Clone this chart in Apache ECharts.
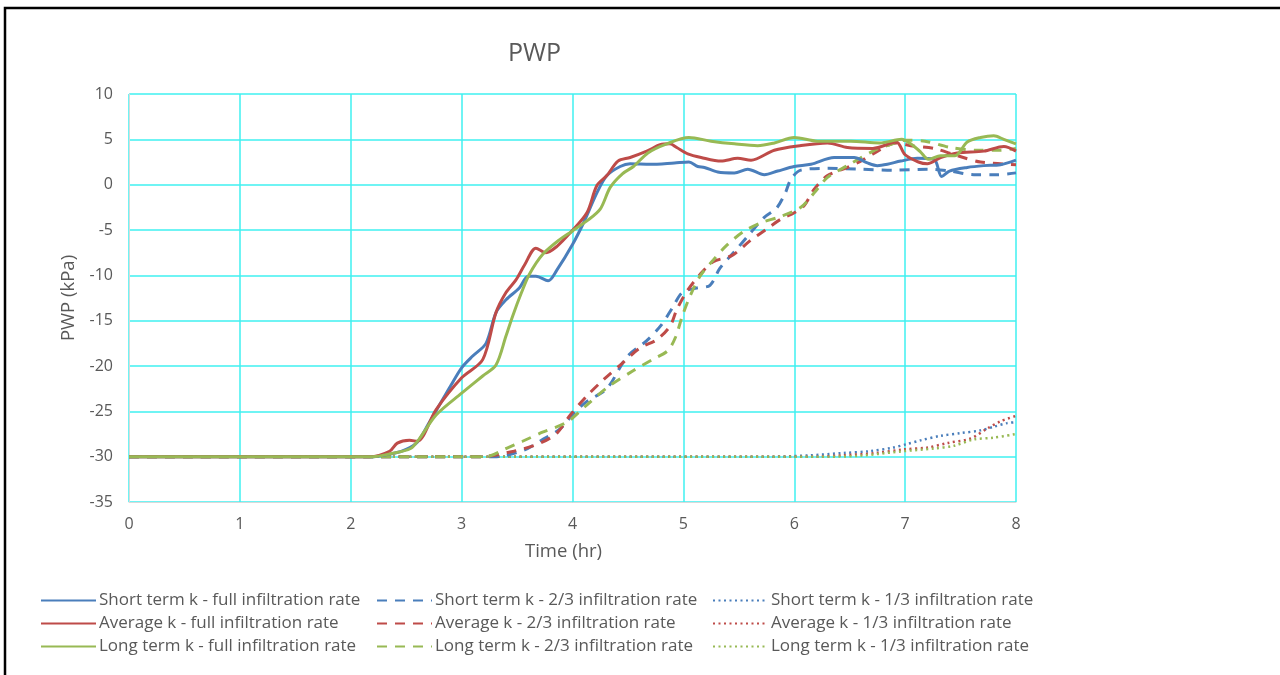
<!DOCTYPE html>
<html>
<head>
<meta charset="utf-8">
<title>PWP</title>
<script src="https://cdn.jsdelivr.net/npm/echarts@6/dist/echarts.min.js"></script>
<style>
  html, body { margin: 0; padding: 0; background: #ffffff; }
  #chart { width: 1280px; height: 675px; }
</style>
</head>
<body>
<div id="chart"></div>
<script>
// Pore water pressure (kPa) against time (hr), pairs of [time, pwp]
const shortFull = [[0,-30],[2.2,-30],[2.4,-29.6],[2.5,-29.2],[2.6,-28.4],[2.7,-26.4],[2.8,-24.3],[2.9,-22.2],[3.0,-20.2],[3.1,-18.9],[3.22,-17.5],[3.31,-14.1],[3.4,-12.7],[3.52,-11.4],[3.6,-10.1],[3.67,-10.1],[3.78,-10.6],[3.86,-9.4],[4.0,-6.6],[4.1,-4.2],[4.22,-0.9],[4.31,1.0],[4.43,2.0],[4.52,2.3],[4.7,2.25],[4.92,2.4],[5.05,2.5],[5.13,2.0],[5.19,1.9],[5.31,1.4],[5.46,1.3],[5.58,1.7],[5.73,1.1],[5.85,1.5],[6.0,2.0],[6.15,2.25],[6.36,3.0],[6.54,3.0],[6.66,2.4],[6.75,2.1],[6.84,2.25],[6.96,2.6],[7.11,2.9],[7.26,2.8],[7.33,0.9],[7.4,1.5],[7.56,1.9],[7.71,2.1],[7.86,2.2],[8.0,2.7]];
const averageFull = [[0,-30],[2.17,-30],[2.35,-29.4],[2.42,-28.5],[2.53,-28.2],[2.6,-28.3],[2.77,-24.8],[3.0,-21.3],[3.19,-19.3],[3.31,-14.1],[3.4,-11.9],[3.49,-10.5],[3.57,-8.8],[3.67,-7.0],[3.76,-7.5],[3.86,-6.8],[3.98,-5.3],[4.13,-3.1],[4.22,-0.1],[4.31,1.0],[4.41,2.6],[4.52,3.0],[4.67,3.7],[4.79,4.4],[4.88,4.5],[4.94,4.1],[5.04,3.4],[5.16,3.0],[5.34,2.6],[5.49,2.9],[5.61,2.7],[5.82,3.8],[6.05,4.3],[6.3,4.6],[6.48,4.1],[6.71,4.0],[6.92,4.7],[7.0,3.3],[7.12,2.5],[7.2,2.3],[7.32,3.0],[7.47,3.5],[7.71,3.7],[7.89,4.2],[8.0,3.7]];
const longFull = [[0,-30],[2.2,-30],[2.35,-29.7],[2.54,-29.1],[2.62,-28.0],[2.77,-25.4],[3.0,-23.0],[3.19,-21.1],[3.31,-19.9],[3.4,-16.7],[3.46,-14.5],[3.54,-11.9],[3.61,-9.9],[3.73,-7.7],[3.89,-6.0],[4.0,-5.1],[4.13,-4.0],[4.25,-2.7],[4.34,-0.3],[4.45,1.2],[4.55,2.0],[4.68,3.5],[4.85,4.5],[5.05,5.2],[5.25,4.8],[5.46,4.5],[5.67,4.3],[5.82,4.6],[6.0,5.2],[6.21,4.8],[6.51,4.8],[6.77,4.6],[6.97,5.0],[7.05,4.5],[7.14,3.6],[7.21,2.8],[7.32,3.2],[7.45,3.2],[7.56,4.7],[7.68,5.2],[7.8,5.4],[7.89,5.0],[8.0,4.5]];

const short23 = [[0,-30],[3.3,-30],[3.56,-29.3],[3.72,-28.2],[3.89,-26.9],[4.02,-25.1],[4.13,-23.9],[4.31,-22.5],[4.49,-19.0],[4.67,-17.2],[4.8,-15.5],[4.9,-13.6],[4.99,-11.9],[5.12,-11.4],[5.24,-11.1],[5.33,-9.2],[5.46,-7.4],[5.6,-5.4],[5.73,-3.6],[5.84,-2.6],[5.92,-0.9],[5.97,0.6],[6.06,1.6],[6.3,1.8],[6.6,1.7],[6.9,1.6],[7.2,1.7],[7.41,1.5],[7.62,1.1],[7.83,1.1],[8.0,1.3]];
const average23 = [[0,-30],[3.17,-30],[3.47,-29.4],[3.71,-28.5],[3.86,-27.4],[3.98,-25.4],[4.13,-23.3],[4.28,-21.5],[4.43,-19.9],[4.61,-18.0],[4.76,-17.1],[4.88,-15.6],[4.94,-13.8],[5.03,-11.8],[5.15,-9.9],[5.27,-8.5],[5.44,-7.8],[5.6,-6.2],[5.75,-4.9],[5.88,-3.8],[6.0,-3.1],[6.09,-2.3],[6.18,-0.5],[6.3,1.0],[6.48,1.9],[6.6,2.6],[6.71,3.4],[6.92,4.6],[7.05,4.3],[7.26,4.0],[7.47,3.2],[7.68,2.5],[8.0,2.2]];
const long23 = [[0,-30],[3.22,-30],[3.4,-29.1],[3.55,-28.3],[3.73,-27.3],[3.95,-26.2],[4.12,-24.4],[4.31,-22.4],[4.55,-20.5],[4.72,-19.3],[4.86,-18.3],[4.93,-16.8],[4.99,-14.5],[5.06,-12.3],[5.15,-10.1],[5.27,-8.3],[5.39,-6.7],[5.54,-5.2],[5.7,-4.2],[5.88,-3.5],[6.06,-2.5],[6.18,-0.9],[6.3,0.8],[6.48,2.1],[6.71,3.7],[6.86,4.4],[7.01,4.9],[7.18,4.8],[7.41,4.1],[7.65,3.8],[7.86,3.8],[8.0,4.0]];

const short13 = [[0,-30],[5.8,-30],[6.14,-29.85],[6.44,-29.6],[6.68,-29.4],[6.89,-29.0],[7.02,-28.6],[7.14,-28.2],[7.32,-27.7],[7.5,-27.4],[7.68,-27.1],[7.8,-26.7],[7.92,-26.3],[8.0,-26.2]];
const average13 = [[0,-30],[6.2,-30],[6.44,-29.85],[6.74,-29.6],[6.98,-29.2],[7.2,-29.0],[7.38,-28.5],[7.59,-28.0],[7.74,-26.9],[7.86,-26.1],[8.0,-25.5]];
const long13 = [[0,-30],[6.3,-30],[6.59,-29.9],[6.98,-29.4],[7.26,-29.1],[7.44,-28.8],[7.62,-28.1],[7.8,-27.9],[8.0,-27.5]];

const seriesNames = [
  'Short term k - full infiltration rate', 'Short term k - 2/3 infiltration rate', 'Short term k - 1/3 infiltration rate',
  'Average k - full infiltration rate', 'Average k - 2/3 infiltration rate', 'Average k - 1/3 infiltration rate',
  'Long term k - full infiltration rate', 'Long term k - 2/3 infiltration rate', 'Long term k - 1/3 infiltration rate'
];
const seriesData = [shortFull, short23, short13, averageFull, average23, average13, longFull, long23, long13];

const BLUE = '#4a7ebb', RED = '#be4b48', GREEN = '#98b954';
const colors = [BLUE, BLUE, BLUE, RED, RED, RED, GREEN, GREEN, GREEN];
const dashes = ['solid', [10, 8], [2, 3.5]];
const TEXT = '#595959';
const FONT = '"Open Sans", sans-serif';

const series = seriesNames.map((name, i) => {
  const style = i % 3;
  return {
    name,
    type: 'line',
    data: seriesData[i],
    symbol: 'none',
    smooth: 0.3,
    z: 10 - style,
    lineStyle: {
      color: colors[i],
      width: style === 2 ? 2.5 : 3,
      type: dashes[style]
    },
    itemStyle: { color: colors[i] }
  };
});

// Legend: three columns (full, 2/3, 1/3), one row per k value
const legendCols = [40, 376, 712];
const legend = legendCols.map((left, c) => ({
  orient: 'vertical',
  left,
  top: 592,
  padding: 0,
  itemWidth: 55,
  itemHeight: 14,
  itemGap: 6,
  itemStyle: { opacity: 0 },
  data: [seriesNames[c], seriesNames[3 + c], seriesNames[6 + c]],
  textStyle: { color: TEXT, fontSize: 17, fontFamily: FONT, padding: [0, 0, 0, -2] },
  selectedMode: false
}));

const chart = echarts.init(document.getElementById('chart'), null, { renderer: 'canvas' });
chart.setOption({
  animation: false,
  backgroundColor: '#ffffff',
  title: {
    text: 'PWP',
    left: 503,
    top: 36,
    textStyle: { color: TEXT, fontSize: 25, fontWeight: 'normal', fontFamily: FONT }
  },
  legend,
  grid: { left: 129, right: 264, top: 94, bottom: 173, containLabel: false },
  xAxis: {
    type: 'value',
    min: 0, max: 8, interval: 1,
    name: 'Time (hr)',
    nameLocation: 'middle',
    nameGap: 40,
    nameTextStyle: { color: TEXT, fontSize: 18.5, fontFamily: FONT, padding: [0, 18, 0, 0] },
    axisLine: { show: true, onZero: false, lineStyle: { color: '#d9d9d9', width: 1 } },
    axisTick: { show: false },
    axisLabel: { color: TEXT, fontSize: 16, fontFamily: FONT, margin: 14 },
    splitLine: { show: true, lineStyle: { color: '#3ff0f0', width: 1.5 } }
  },
  yAxis: {
    type: 'value',
    min: -35, max: 10, interval: 5,
    name: 'PWP (kPa)',
    nameLocation: 'middle',
    nameGap: 51,
    nameTextStyle: { color: TEXT, fontSize: 18.5, fontFamily: FONT },
    axisLine: { show: true, lineStyle: { color: '#d9d9d9', width: 1 } },
    axisTick: { show: false },
    axisLabel: { color: TEXT, fontSize: 16, fontFamily: FONT, margin: 16 },
    splitLine: { show: true, lineStyle: { color: '#3ff0f0', width: 1.5 } }
  },
  graphic: [{
    type: 'polyline',
    shape: { points: [[5, 675], [5, 8], [1280, 8]] },
    style: { stroke: '#000000', lineWidth: 2.5, fill: null },
    silent: true
  }],
  series
});
</script>
</body>
</html>
